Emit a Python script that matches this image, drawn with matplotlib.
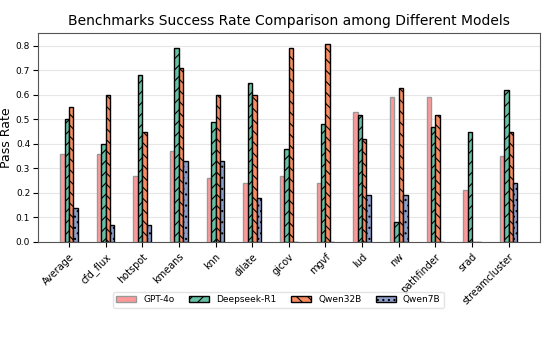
import matplotlib
matplotlib.use('Agg')
import matplotlib.pyplot as plt
import numpy as np

benchmarks = ['Average', 'cfd_flux', 'hotspot', 'kmeans', 'knn', 'dilate', 'gicov',
              'mgvf', 'lud', 'nw', 'pathfinder', 'srad', 'streamcluster']
gpt4o = [0.36, 0.36, 0.27, 0.37, 0.26, 0.24, 0.27, 0.24, 0.53, 0.59, 0.59, 0.21, 0.35]
deepseek_r1 = [0.50, 0.40, 0.68, 0.79, 0.49, 0.65, 0.38, 0.48, 0.52, 0.08, 0.47, 0.45, 0.62]
qwen32b = [0.55, 0.60, 0.45, 0.71, 0.60, 0.60, 0.79, 0.81, 0.42, 0.63, 0.52, 0.0, 0.45]
qwen7b = [0.14, 0.07, 0.07, 0.33, 0.33, 0.18, 0.0, 0.0, 0.19, 0.19, 0.0, 0.0, 0.24]

models = ['GPT-4o', 'Deepseek-R1', 'Qwen32B', 'Qwen7B']
series = [gpt4o, deepseek_r1, qwen32b, qwen7b]
colors = ['#ff9999', '#66c2a5', '#fc8d62', '#8da0cb']
hatches = [None, '///', '\\\\\\', '...']
edges = ['#999999', 'black', 'black', 'black']

plt.rcParams['hatch.linewidth'] = 0.8
fig = plt.figure(figsize=(5.48, 3.44), dpi=100)
ax = fig.add_axes([0.069, 0.297, 0.916, 0.607])

x = np.arange(len(benchmarks))
w = 0.12
for i, (name, vals) in enumerate(zip(models, series)):
    ax.bar(x + (i - 1.5) * w, vals, w, label=name, color=colors[i],
           hatch=hatches[i], edgecolor=edges[i], linewidth=1.0, zorder=3)

ax.set_xlim(-0.85, len(benchmarks) - 1 + 0.85)
ax.set_ylim(0, 0.853)
ax.set_yticks(np.arange(0, 0.81, 0.1))
ax.tick_params(axis='y', labelsize=6.5, pad=2)
ax.set_xticks(x)
ax.set_xticklabels(benchmarks, rotation=45, ha='right', fontsize=7, rotation_mode='anchor')
ax.set_ylabel('Pass Rate', fontsize=9, labelpad=2)
ax.set_title('Benchmarks Success Rate Comparison among Different Models', fontsize=10)
ax.grid(axis='y', color='#e6e6e6', linewidth=0.8, zorder=0)
for s in ax.spines.values():
    s.set_edgecolor('#555555')

fig.legend(loc='center', bbox_to_anchor=(0.508, 0.128), ncol=4, fontsize=6.5,
           frameon=True, edgecolor='#dddddd', columnspacing=1.6, handlelength=2.2)

fig.savefig('out.png', dpi=100)
